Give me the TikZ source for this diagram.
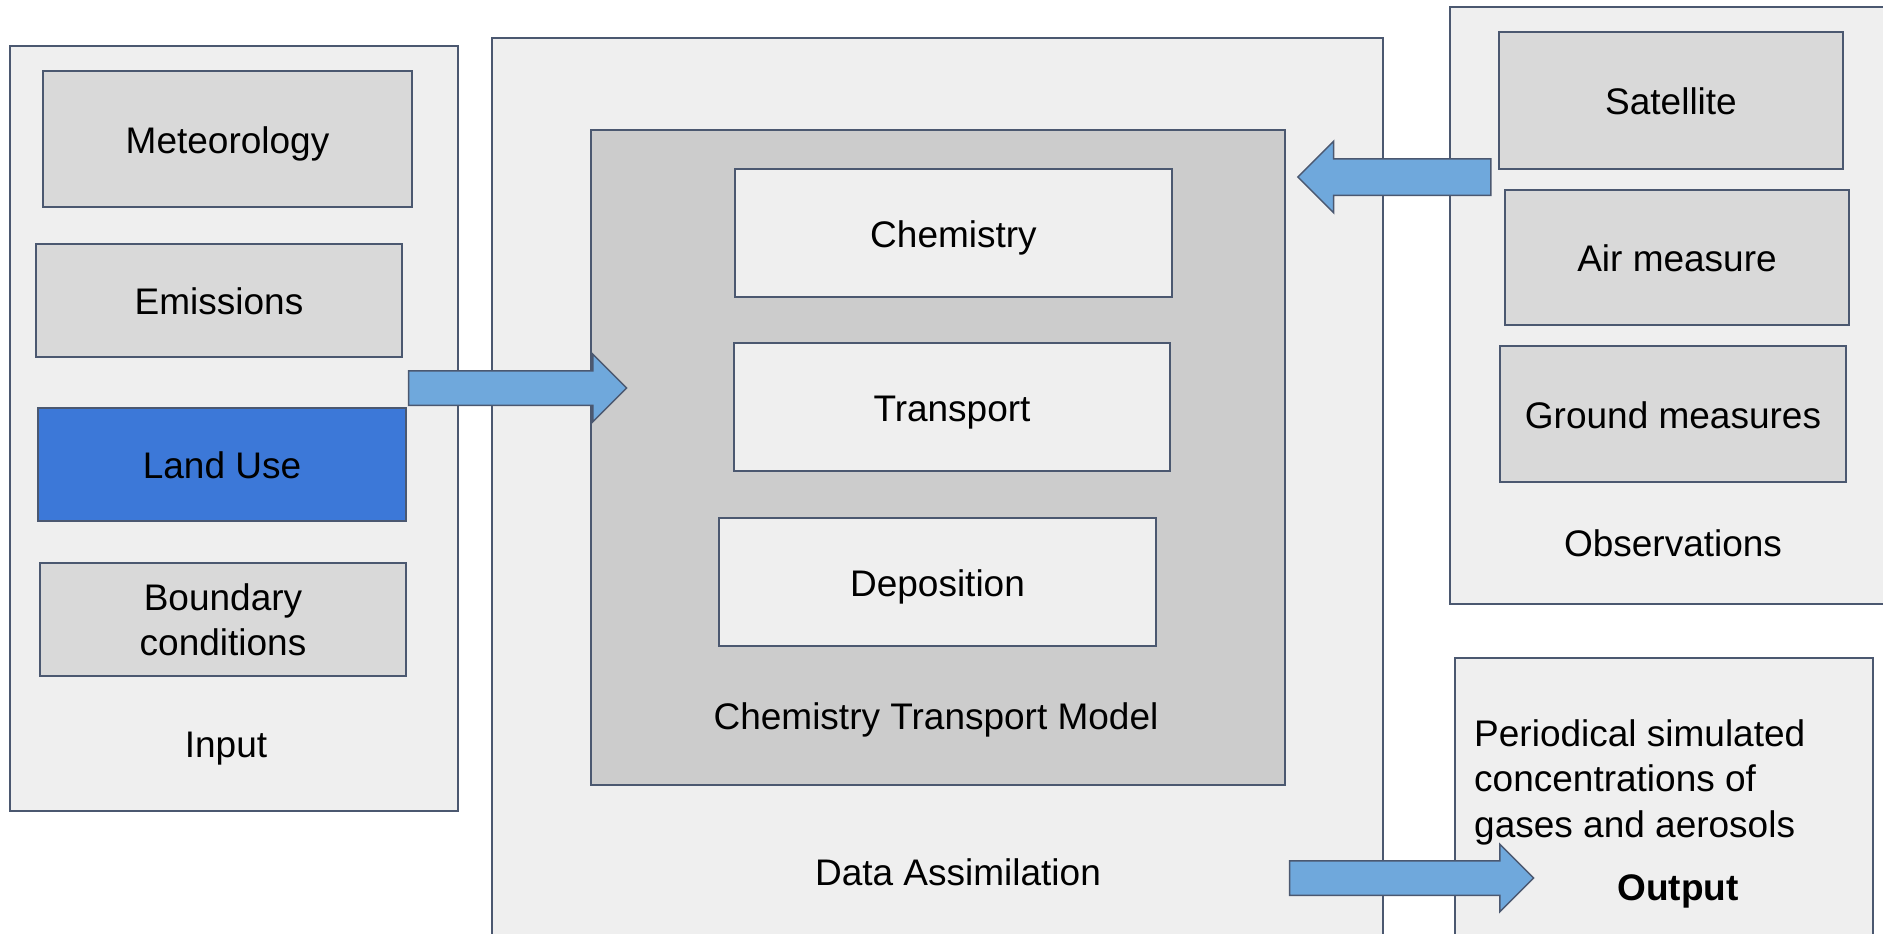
\documentclass[tikz,border=0pt]{standalone}
\usepackage{fontspec}
\setmainfont{Liberation Sans}
\usetikzlibrary{shapes.arrows}
\definecolor{edgeblue}{HTML}{4B5870}
\definecolor{framegray}{HTML}{EFEFEF}
\definecolor{boxgray}{HTML}{D9D9D9}
\definecolor{ctmgray}{HTML}{CCCCCC}
\definecolor{landblue}{HTML}{3C78D8}
\definecolor{arrowblue}{HTML}{6FA8DC}
\tikzset{
  every node/.style={font=\fontsize{37}{45}\selectfont},
  oneline/.style={text height=28pt, text depth=0pt},
  frame/.style={draw=edgeblue, line width=1.5pt, fill=framegray, inner sep=0pt},
  graybox/.style={frame, fill=boxgray, align=center},
  lightbox/.style={frame, fill=framegray, oneline},
  fatarrow/.style={single arrow, draw=edgeblue, line width=1.5pt, fill=arrowblue,
    inner xsep=0pt, inner ysep=16.5pt, single arrow head extend=16.5pt}
}

\begin{document}
\begin{tikzpicture}[x=1pt, y=-1pt]
\useasboundingbox (0,0) rectangle (1883,934);
\fill[white] (0,0) rectangle (1883,934);
\clip (0,0) rectangle (1883,934);

% the four outer frames
\node[frame, minimum width=448pt, minimum height=765pt] (input) at (234,428.5) {};
\node[frame, minimum width=891pt, minimum height=907pt] (assim) at (937.5,491.5) {};
\node[frame, minimum width=445pt, minimum height=597pt] (obs) at (1672.5,305.5) {};
\node[frame, minimum width=418pt, minimum height=287pt] (output) at (1664,801.5) {};

% input data
\node[graybox, oneline, minimum width=369pt, minimum height=136pt] (meteo) at (227.5,139) {Meteorology};
\node[graybox, oneline, minimum width=366pt, minimum height=113pt] (emis) at (219,300.5) {Emissions};
\node[graybox, oneline, fill=landblue, minimum width=368pt, minimum height=113pt] (landuse) at (222,464.5) {Land Use};
\node[graybox, minimum width=366pt, minimum height=113pt] (bound) at (223,619.5) {Boundary\\conditions};
\node[oneline] (inputlbl) at (226,743) {Input};

% the model
\node[frame, fill=ctmgray, minimum width=694pt, minimum height=655pt] (ctm) at (938,457.5) {};
\node[lightbox, minimum width=437pt, minimum height=128pt] (chem) at (953.5,233) {Chemistry};
\node[lightbox, minimum width=436pt, minimum height=128pt] (transp) at (952,407) {Transport};
\node[lightbox, minimum width=437pt, minimum height=128pt] (depo) at (937.5,582) {Deposition};
\node[oneline] (ctmlbl) at (936,715.5) {Chemistry Transport Model};
\node[oneline] (assimlbl) at (958,871) {Data Assimilation};

% observations
\node[graybox, oneline, minimum width=344pt, minimum height=137pt] (sat) at (1671,100.5) {Satellite};
\node[graybox, oneline, minimum width=344pt, minimum height=135pt] (air) at (1677,257.5) {Air measure};
\node[graybox, oneline, minimum width=346pt, minimum height=136pt] (ground) at (1673,414) {Ground measures};
\node[oneline] (obslbl) at (1673,542) {Observations};

% output
\node[anchor=west, align=left, inner sep=0pt, font=\fontsize{37}{45.5}\selectfont] (outtext) at (1474,782)
  {Periodical simulated\\concentrations of\\gases and aerosols};
\node[oneline, font=\fontsize{37}{45}\selectfont\bfseries] (outlbl) at (1678,886) {Output};

% block arrows
\node[fatarrow, minimum height=218pt] (inarrow) at (509,388) {};
\node[fatarrow, shape border rotate=180, inner ysep=17.5pt, single arrow head extend=17.5pt,
  minimum height=193pt] (obsarrow) at (1403.5,177) {};
\node[fatarrow, minimum height=244pt] (outarrow) at (1403,878) {};
\end{tikzpicture}
\end{document}
